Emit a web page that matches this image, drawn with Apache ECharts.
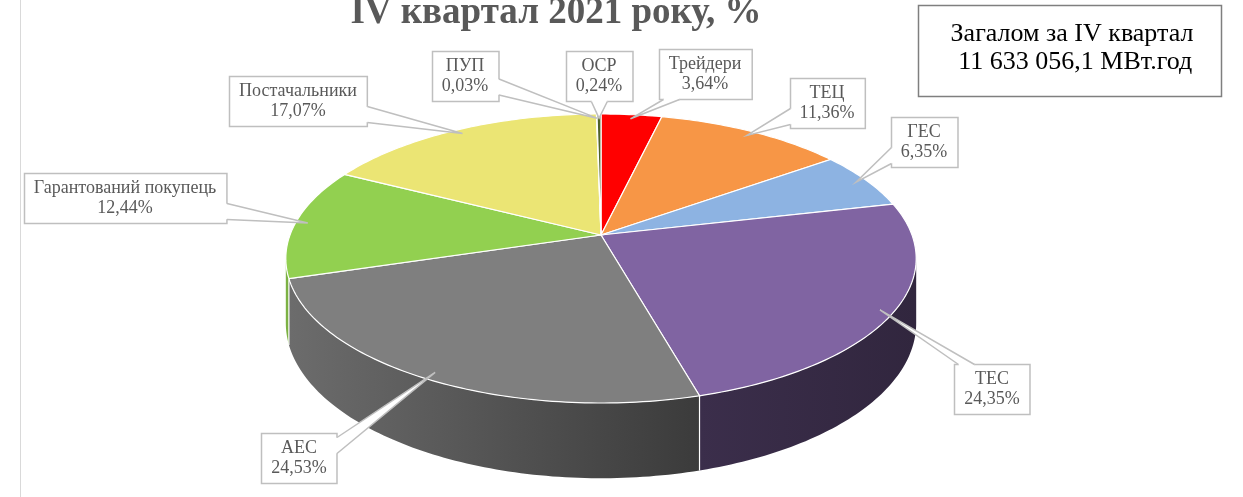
<!DOCTYPE html>
<html lang="uk">
<head>
    <meta charset="UTF-8">
    <title>IV квартал 2021 року, %</title>
    <style>
        * {
            padding: 0;
            margin: 0;
        }

        #chart {
            width: 1243px;
            height: 497px;
            background: #fff;
        }
    </style>
    <script src="https://cdn.jsdelivr.net/npm/echarts@6.0.0/dist/echarts.min.js"></script>
</head>
<body>
<div id="chart"></div>
<script>
    // data
    const titleText = 'IV квартал 2021 року, %'
    const totalLines = ['Загалом за IV квартал', ' 11 633 056,1 МВт.год']
    const names = ['Трейдери', 'ТЕЦ', 'ГЕС', 'ТЕС', 'АЕС', 'Гарантований покупець', 'Постачальники', 'ПУП', 'ОСР']
    const shares = [3.64, 11.36, 6.35, 24.35, 24.53, 12.44, 17.07, 0.03, 0.24]

    // look
    const colors = ['#ff0000', '#f79646', '#8db3e2', '#8064a2', '#7f7f7f', '#92d050', '#ebe574', '#77933c', '#4f6228']
    // label box centres, placed by hand like in the original
    const labelAt = [[705, 74], [827, 103], [924, 142], [992, 389], [299, 458], [125, 198], [298, 101], [465, 76], [599, 76]]
    const labelFont = '18px "Liberation Serif"'

    // fake 3d: tilted disc with a bit of perspective
    const CX = 601, CY = 235, RX = 311, RY = 140.7, H = 63, P = 0.1625

    function proj(deg, r, z) {
        let a = deg * Math.PI / 180
        let x = r * Math.sin(a), dep = -r * Math.cos(a)
        let k = 1 / (1 - P * dep)
        return [CX + RX * x * k, CY + (RY * dep + z) * k]
    }

    // silhouette angles of the side wall
    let sideFrom = 90, sideTo = 270
    for (let t = 90, best = -1; t <= 180; t += 0.25) {
        let x = proj(t, 1, 0)[0]
        if (x > best) { best = x; sideFrom = t }
    }
    for (let t = 180, best = 1e9; t <= 270; t += 0.25) {
        let x = proj(t, 1, 0)[0]
        if (x <= best) { best = x; sideTo = t }
    }

    const total = shares.reduce((s, v) => s + v, 0)
    const starts = []
    shares.reduce((acc, v, i) => { starts[i] = acc; return acc + v / total * 360 }, 0)

    function shade(hex, f) {
        let n = parseInt(hex.slice(1), 16)
        let r = Math.round(((n >> 16) & 255) * f), g = Math.round(((n >> 8) & 255) * f), b = Math.round((n & 255) * f)
        return 'rgb(' + r + ',' + g + ',' + b + ')'
    }

    // darker towards the right
    function light(x) {
        let u = Math.max(0, Math.min(1, (CX + RX - x) / (2 * RX)))
        return 0.38 + 0.47 * Math.pow(u, 1.6)
    }

    function arc(a0, a1, z) {
        let pts = []
        for (let t = a0; ; t += 1) {
            let tt = Math.min(t, a1)
            pts.push(proj(tt, 1, z))
            if (tt >= a1) break
        }
        return pts
    }

    let measureCtx = document.createElement('canvas').getContext('2d')
    measureCtx.font = labelFont

    function sliceItem(params, api) {
        let i = api.value(0)
        let a0 = starts[i], a1 = a0 + api.value(1) / total * 360
        let children = []
        let s0 = Math.max(a0, sideFrom), s1 = Math.min(a1, sideTo)
        if (s1 > s0) {
            let top = arc(s0, s1, 0), bot = arc(s0, s1, H)
            let pts = top.concat(bot.reverse())
            let xs = pts.map(p => p[0])
            let xl = Math.min(...xs), xr = Math.max(...xs)
            children.push({
                type: 'polygon',
                shape: {points: pts},
                style: {
                    fill: {
                        type: 'linear', x: 0, y: 0, x2: 1, y2: 0,
                        colorStops: [
                            {offset: 0, color: shade(colors[i], light(xl))},
                            {offset: 1, color: shade(colors[i], light(xr))}
                        ]
                    }
                }
            })
            if (a0 > sideFrom && a0 < sideTo) {
                let p = proj(a0, 1, 0), q = proj(a0, 1, H)
                children.push({type: 'line', shape: {x1: p[0], y1: p[1], x2: q[0], y2: q[1]}, style: {stroke: '#fff', lineWidth: 1.2}})
            }
        }
        let face = [proj(0, 0, 0)].concat(arc(a0, a1, 0))
        children.push({
            type: 'polygon',
            shape: {points: face},
            style: {fill: colors[i], stroke: '#fff', lineWidth: 1.2}
        })
        return {type: 'group', children: children}
    }

    function tailPoints(b, tip) {
        let cx = b.x + b.w / 2, cy = b.y + b.h / 2
        let dx = tip[0] - cx, dy = tip[1] - cy
        let tx = dx ? (b.w / 2) / Math.abs(dx) : Infinity
        let ty = dy ? (b.h / 2) / Math.abs(dy) : Infinity
        let hw = 8, m = 4
        if (ty < tx) {
            let ey = dy > 0 ? b.y + b.h : b.y
            let bx = Math.max(b.x + hw + m, Math.min(b.x + b.w - hw - m, cx + dx * ty))
            let s = dy > 0 ? -2 : 2
            return {edge: [[bx - hw, ey], [bx + hw, ey]], cover: [[bx - hw + 1, ey + s], [bx - hw, ey], tip, [bx + hw, ey], [bx + hw - 1, ey + s]]}
        }
        let ex = dx > 0 ? b.x + b.w : b.x
        let by = Math.max(b.y + hw + m, Math.min(b.y + b.h - hw - m, cy + dy * tx))
        let s = dx > 0 ? -2 : 2
        return {edge: [[ex, by - hw], [ex, by + hw]], cover: [[ex + s, by - hw + 1], [ex, by - hw], tip, [ex, by + hw], [ex + s, by + hw - 1]]}
    }

    function labelItem(params, api) {
        let i = api.value(0)
        let mid = starts[i] + api.value(1) / total * 180
        let tip = proj(mid, 0.96, 0)
        let valueText = api.value(1).toFixed(2).replace('.', ',') + '%'
        let text = names[i] + '\n' + valueText
        let w = Math.max(measureCtx.measureText(names[i]).width, measureCtx.measureText(valueText).width) + 20
        let h = 50
        let b = {x: Math.round(labelAt[i][0] - w / 2) + 0.5, y: Math.round(labelAt[i][1] - h / 2) + 0.5, w: w, h: h}
        let t = tailPoints(b, tip)
        return {
            type: 'group',
            children: [
                {type: 'rect', shape: {x: b.x, y: b.y, width: b.w, height: b.h}, style: {fill: '#fff', stroke: '#bfbfbf', lineWidth: 1.5}},
                {type: 'polygon', shape: {points: t.cover}, style: {fill: '#fff'}},
                {type: 'polyline', shape: {points: [t.edge[0], tip, t.edge[1]]}, style: {stroke: '#bfbfbf', lineWidth: 1.5, fill: null}},
                {
                    type: 'text', x: labelAt[i][0], y: labelAt[i][1],
                    style: {text: text, fill: '#595959', font: labelFont, align: 'center', verticalAlign: 'middle', lineHeight: 20}
                }
            ]
        }
    }

    const seriesData = shares.map((v, i) => [i, v])

    const chart = echarts.init(document.getElementById('chart'))
    chart.setOption({
        animation: false,
        backgroundColor: '#fff',
        graphic: [
            {type: 'line', shape: {x1: 20.5, y1: 0, x2: 20.5, y2: 497}, style: {stroke: '#d9d9d9', lineWidth: 1}, z: 0},
            {
                type: 'text', x: 556, y: 13,
                style: {text: titleText, fill: '#595959', font: 'bold 37px "Liberation Serif"', align: 'center', verticalAlign: 'middle'}
            },
            {
                type: 'rect', shape: {x: 918.5, y: 5.5, width: 303, height: 91},
                style: {fill: '#fff', stroke: '#7f7f7f', lineWidth: 1.5}
            },
            {
                type: 'text', x: 1072, y: 48,
                style: {text: totalLines.join('\n'), fill: '#000', font: '26px "Liberation Serif"', align: 'center', verticalAlign: 'middle', lineHeight: 28}
            }
        ],
        series: [
            {type: 'custom', coordinateSystem: 'none', silent: true, z: 2, renderItem: sliceItem, data: seriesData},
            {type: 'custom', coordinateSystem: 'none', silent: true, z: 3, renderItem: labelItem, data: seriesData}
        ]
    })
</script>
</body>
</html>
